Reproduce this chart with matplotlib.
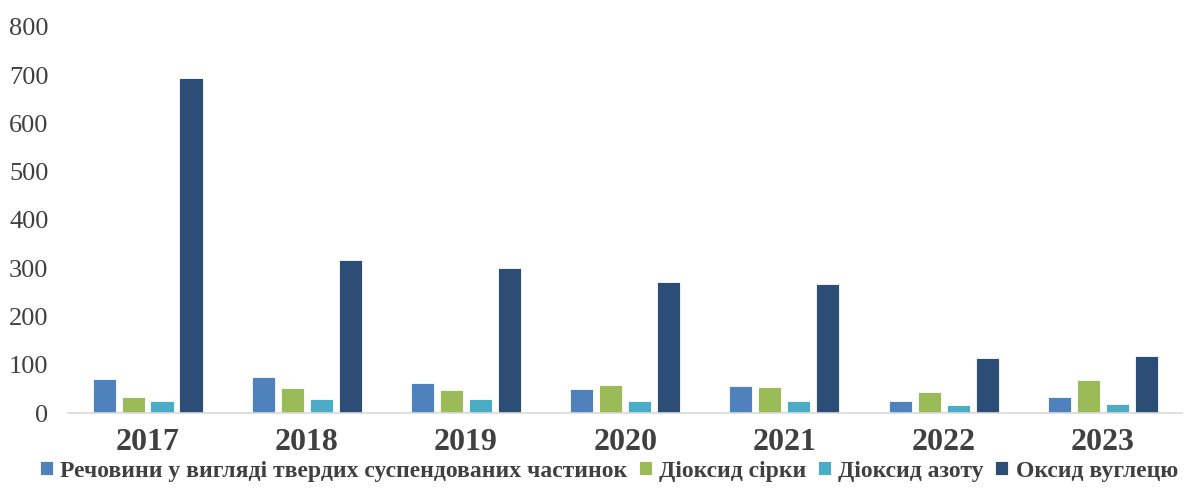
import numpy as np
import matplotlib
matplotlib.use("Agg")
import matplotlib.pyplot as plt

years = ["2017", "2018", "2019", "2020", "2021", "2022", "2023"]
series_names = ["Речовини у вигляді твердих суспендованих частинок",
                "Діоксид сірки", "Діоксид азоту", "Оксид вуглецю"]
particles = [70, 75, 63, 51, 56, 25, 33]
sulfur = [34, 52, 47, 58, 54, 44, 69]
nitrogen = [26, 29, 29, 25, 25, 16, 18]
carbon = [694, 318, 301, 271, 268, 115, 118]
colors = ["#4F81BD", "#9BBB59", "#4BACC6", "#2C4D75"]

plt.rcParams['font.family'] = ['Liberation Serif', 'DejaVu Serif']

fig = plt.figure(figsize=(11.92, 4.96), dpi=100)
ax = fig.add_axes([0.057, 0.167, 0.935, 0.779])

x = np.arange(len(years))
pitch = 0.182
width = 0.145
data = [particles, sulfur, nitrogen, carbon]
for i, vals in enumerate(data):
    ax.bar(x + (i - 1.5) * pitch, vals, width, color=colors[i],
           edgecolor="white", linewidth=0.6, label=series_names[i])

ax.set_xlim(-0.5, len(years) - 0.5)
ax.set_ylim(0, 800)
ax.set_yticks(range(0, 801, 100))
ax.set_xticks(x)
ax.set_xticklabels(years, fontsize=23, fontweight="bold", color="#404040")
ax.tick_params(axis="y", labelsize=19, labelcolor="#404040", length=0, pad=14)
ax.tick_params(axis="x", length=0, pad=11)
for s in ["top", "right", "left"]:
    ax.spines[s].set_visible(False)
ax.spines["bottom"].set_color("#D9D9D9")
ax.spines["bottom"].set_linewidth(1.2)

leg = fig.legend(loc="center right", bbox_to_anchor=(0.998, 0.05), ncol=4, frameon=False,
                 prop={"size": 17, "weight": "bold"}, handlelength=0.55, handleheight=0.55,
                 handletextpad=0.3, columnspacing=0.5, borderpad=0)
for t in leg.get_texts():
    t.set_color("#404040")

fig.savefig("out.png", dpi=100)
